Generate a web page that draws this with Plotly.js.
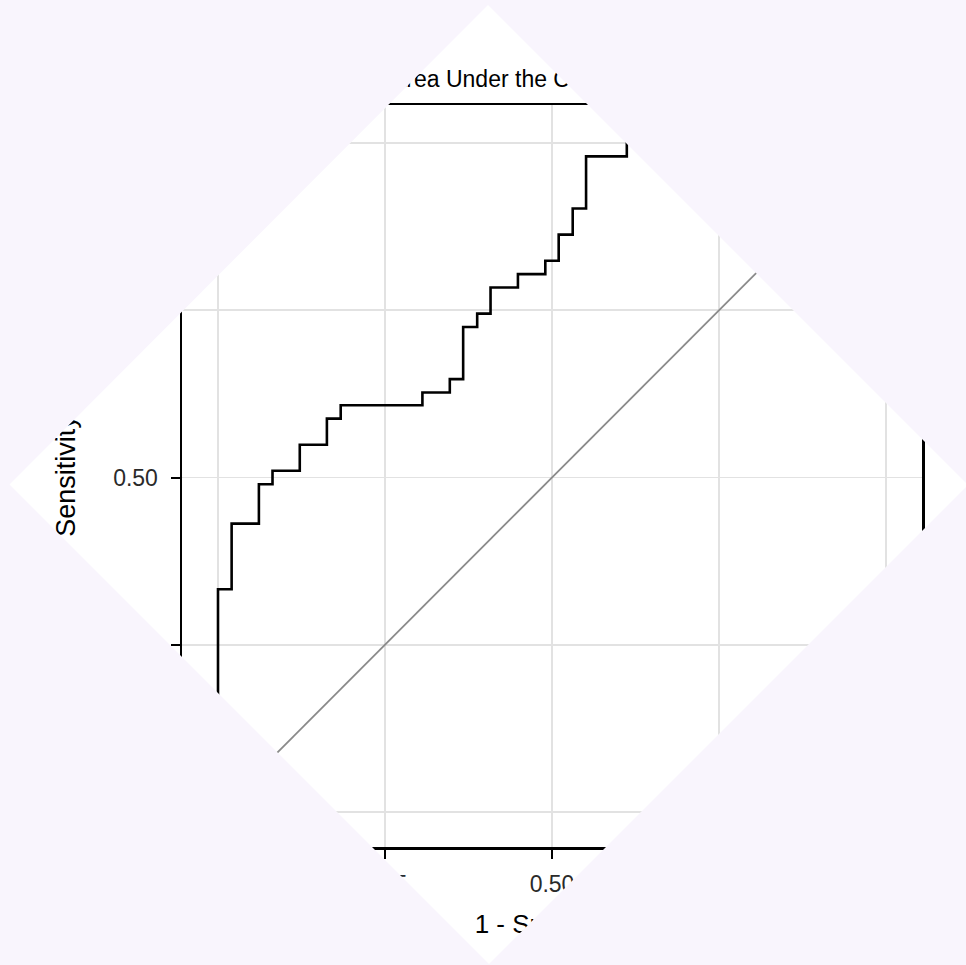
<!DOCTYPE html>
<html>
<head>
<meta charset="utf-8">
<script src="https://cdn.plot.ly/plotly-3.0.1.min.js"></script>
<style>
  html, body { margin: 0; padding: 0; background: #f9f5fd; width: 966px; height: 965px; overflow: hidden; }
  #chart { position: absolute; left: 0; top: 0; width: 966px; height: 965px;
           clip-path: polygon(488px 5px, 968px 485px, 489px 964px, 9.5px 484.5px); }
</style>
</head>
<body>
<div id="chart"></div>
<script>
// ROC curve corner points (1 - specificity, sensitivity), step shape "vh"
const fpr = [0, 0.0204, 0.0612, 0.0816, 0.1224, 0.163, 0.1837, 0.306, 0.347, 0.367, 0.388, 0.408, 0.449, 0.490, 0.510, 0.531, 0.551, 0.612, 1.0];
const tpr = [0, 0.333, 0.431, 0.490, 0.510, 0.549, 0.588, 0.608, 0.627, 0.647, 0.725, 0.745, 0.784, 0.804, 0.824, 0.863, 0.902, 0.980, 1.0];
// reference (chance) diagonal
const diagX = [0, 1];
const diagY = [0, 1];
const tickVals = [0, 0.25, 0.5, 0.75, 1];
const tickText = ["0.00", "0.25", "0.50", "0.75", "1.00"];
const titleText = "Area Under the Curve = 0.798";
const xTitle = "1 - Specificity";
const yTitle = "Sensitivity";

const font = "Liberation Sans, Arial, Helvetica, sans-serif";

const traces = [
  { x: diagX, y: diagY, type: "scatter", mode: "lines",
    line: { color: "#8a8a8a", width: 1.8 }, hoverinfo: "skip", showlegend: false },
  { x: fpr, y: tpr, type: "scatter", mode: "lines",
    line: { color: "#000000", width: 2.6, shape: "vh" }, showlegend: false }
];

const axisCommon = {
  tickvals: tickVals, ticktext: tickText,
  showgrid: true, gridcolor: "#e2e2e2", gridwidth: 1.8,
  zeroline: false,
  showline: true, linecolor: "#000000", linewidth: 2.5, mirror: true,
  ticks: "outside", ticklen: 9, tickwidth: 2, tickcolor: "#000000",
  tickfont: { family: font, size: 23, color: "#2a2a2a" },
  automargin: false
};

const layout = {
  width: 966, height: 965,
  paper_bgcolor: "#ffffff", plot_bgcolor: "#ffffff",
  margin: { l: 182, r: 44, t: 105, b: 118, pad: 0 },
  title: { text: titleText, font: { family: font, size: 23, color: "#000000" },
           xref: "container", x: 391 / 966, xanchor: "left",
           yref: "container", y: 1 - 79 / 965, yanchor: "middle" },
  xaxis: Object.assign({}, axisCommon, {
    range: [-0.0539, 1.0539],
    ticklabelstandoff: 6,
    title: { text: xTitle, font: { family: font, size: 26, color: "#000000" }, standoff: 19 }
  }),
  yaxis: Object.assign({}, axisCommon, {
    range: [-0.0523, 1.0568],
    ticklabelstandoff: 8,
    title: { text: yTitle, font: { family: font, size: 27, color: "#000000" }, standoff: 30 }
  })
};

Plotly.newPlot("chart", traces, layout, { displayModeBar: false, staticPlot: true });
</script>
</body>
</html>
